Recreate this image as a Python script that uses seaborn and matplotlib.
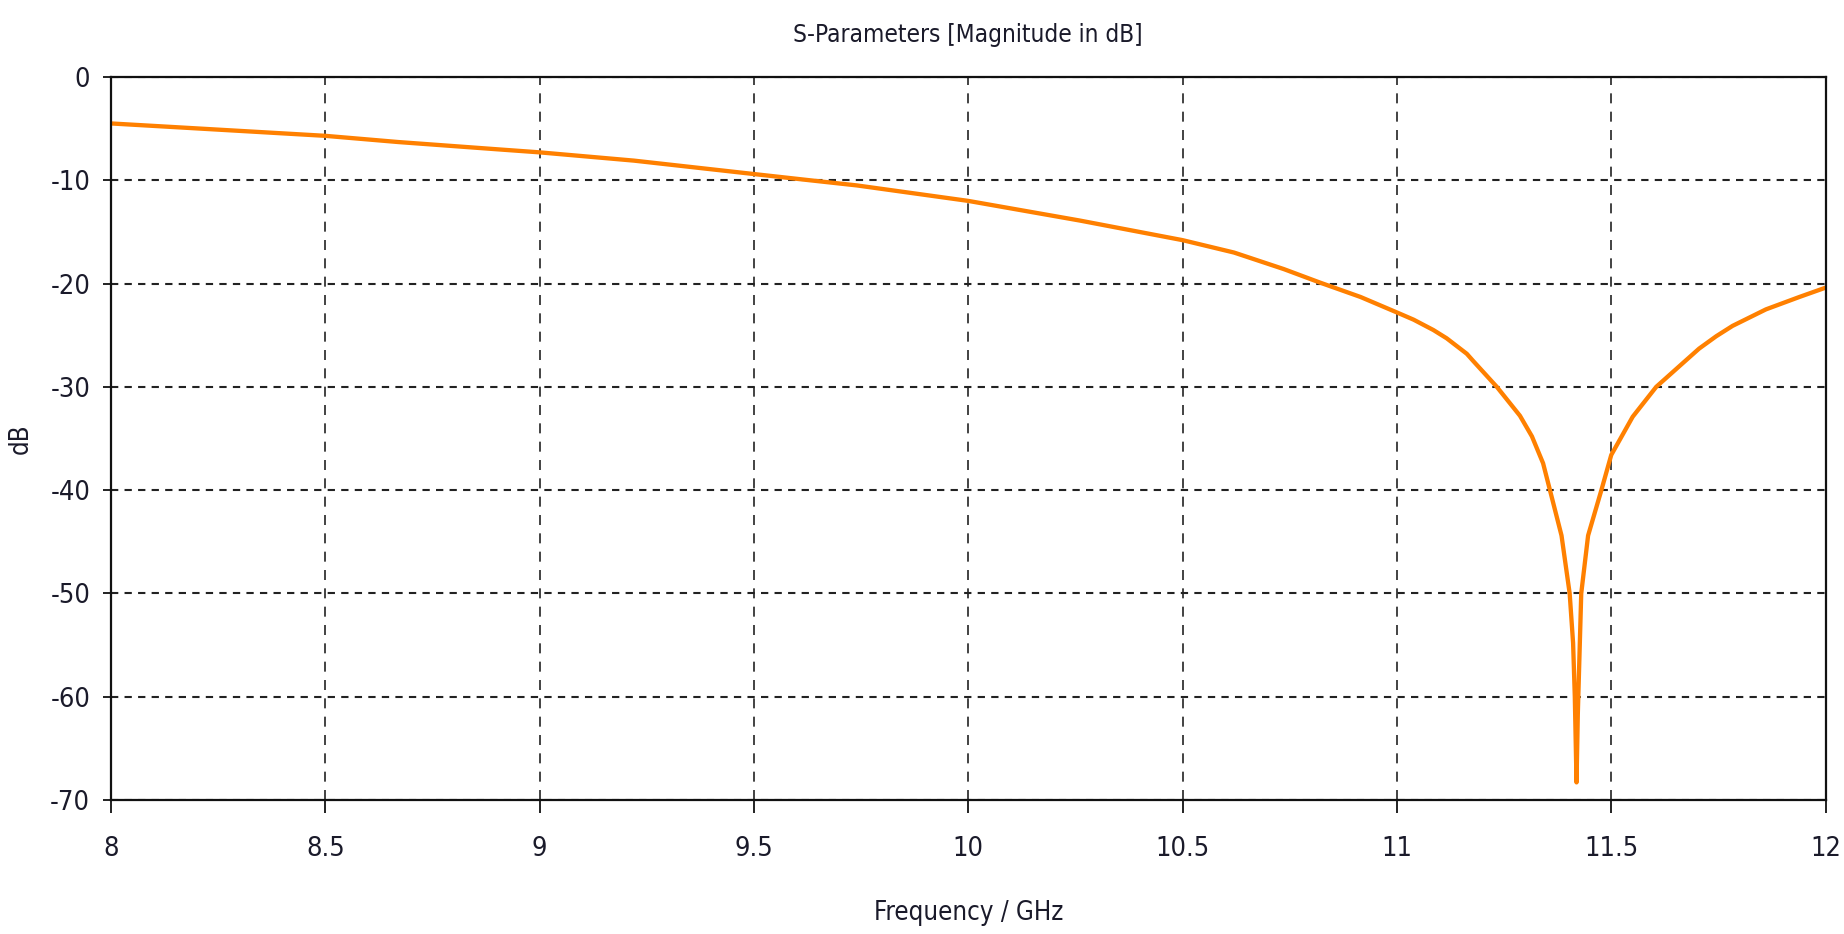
import matplotlib
matplotlib.use("Agg")
import matplotlib.pyplot as plt
import seaborn as sns
import pandas as pd

# Data (S11 magnitude in dB)
freq_ghz = [8.0, 8.25, 8.5, 8.67, 8.9, 9.0, 9.22, 9.5, 9.63, 9.74, 10.0, 10.26,
            10.5, 10.62, 10.736, 10.82, 10.915, 11.0, 11.039, 11.085, 11.116,
            11.163, 11.178, 11.233, 11.287, 11.315, 11.341, 11.357, 11.384,
            11.403, 11.411, 11.415, 11.419, 11.422, 11.43, 11.446, 11.477,
            11.5, 11.55, 11.605, 11.659, 11.705, 11.745, 11.783, 11.861,
            11.939, 12.0]
s11_db = [-4.5, -5.1, -5.7, -6.3, -7.0, -7.3, -8.1, -9.4, -10.0, -10.5, -12.0,
          -13.9, -15.8, -17.0, -18.6, -19.9, -21.3, -22.8, -23.5, -24.5, -25.3,
          -26.8, -27.5, -30.0, -32.8, -34.8, -37.4, -40.0, -44.4, -50.0, -54.8,
          -60.0, -68.3, -61.7, -50.0, -44.4, -40.0, -36.6, -32.9, -30.0, -28.0,
          -26.3, -25.1, -24.1, -22.5, -21.3, -20.4]

x_ticks = [8, 8.5, 9, 9.5, 10, 10.5, 11, 11.5, 12]
x_tick_labels = ["8", "8.5", "9", "9.5", "10", "10.5", "11", "11.5", "12"]
y_ticks = [0, -10, -20, -30, -40, -50, -60, -70]

df = pd.DataFrame({"Frequency": freq_ghz, "dB": s11_db})

sns.set_theme(style="white")
plt.rcParams["font.family"] = ["DejaVu Sans"]
plt.rcParams["font.stretch"] = "condensed"
plt.rcParams["axes.unicode_minus"] = False

fig = plt.figure(figsize=(18.44, 9.34), dpi=100)
ax = fig.add_axes([0.0602, 0.1435, 0.9298, 0.7741])

sns.lineplot(data=df, x="Frequency", y="dB", color="#ff8000", linewidth=3.1,
             ax=ax, legend=False)

ax.set_xlim(8, 12)
ax.set_ylim(-70, 0)
ax.set_xticks(x_ticks)
ax.set_xticklabels(x_tick_labels)
ax.set_yticks(y_ticks)

# grid: dashed verticals, dotted horizontals
ax.xaxis.grid(True, color="#222222", linestyle=(0, (6, 5)), linewidth=1.2)
ax.yaxis.grid(True, color="#222222", linestyle=(0, (3.5, 3)), linewidth=1.5)
ax.set_axisbelow(True)

for s in ax.spines.values():
    s.set_color("#111111")
    s.set_linewidth(1.6)
    s.set_visible(True)

ax.tick_params(axis="x", direction="out", length=9, width=1.3, color="#111111",
               pad=17, labelsize=19.5, labelcolor="#1a1a2a", bottom=True)
ax.tick_params(axis="y", direction="out", length=6, width=1.3, color="#111111",
               pad=9, labelsize=19.5, labelcolor="#1a1a2a", left=True)

ax.set_title("S-Parameters [Magnitude in dB]", fontsize=17.5, color="#1a1a2a", pad=25)
ax.set_xlabel("Frequency / GHz", fontsize=18.5, color="#1a1a2a", labelpad=27)
ax.set_ylabel("dB", fontsize=18.5, color="#1a1a2a", labelpad=12)

fig.savefig("out.png", dpi=100)
